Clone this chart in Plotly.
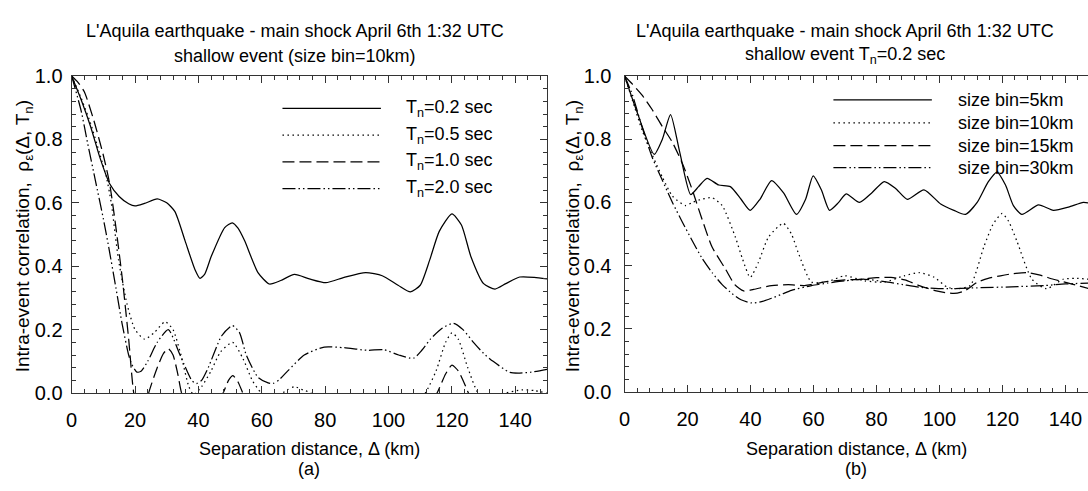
import plotly.graph_objects as go

W, H = 1088, 491

# ---------------- data: panel (a) ----------------
x_a02 = [0,3,6,9,12,15,18,20,23,27,30,32.6,35.8,38.9,40.5,42,44.1,48.3,50.7,52.5,54.6,58.8,62.4,66,70.3,75,80.2,86,92.8,98,103,106.9,110,113,116,120,123,126,130,133.6,137,141.4,146,150]
y_a02 = [1.0,0.925,0.84,0.74,0.66,0.62,0.597,0.59,0.598,0.612,0.6,0.572,0.48,0.39,0.362,0.375,0.432,0.522,0.537,0.52,0.48,0.38,0.344,0.355,0.374,0.36,0.348,0.365,0.38,0.37,0.34,0.319,0.34,0.42,0.51,0.565,0.53,0.43,0.345,0.328,0.345,0.366,0.365,0.36]

x_a05 = [0,3,6,9,11,12.5,14.8,17.5,20,23,26,29.5,32,34.5,37,38.5,41,44,47,50.8,54,57,59.8,62,65,68,70.3,73,75.5,80,90,100,108,111.6,115,118,120,122,125,128.3,132,137,142,146,150]
y_a05 = [1.0,0.93,0.85,0.75,0.68,0.6,0.42,0.28,0.2,0.17,0.19,0.225,0.2,0.12,0.02,-0.005,0.02,0.07,0.13,0.16,0.11,0.04,0.0,-0.02,-0.01,0.01,0.02,0.01,0.0,-0.05,-0.1,-0.08,-0.04,0.0,0.07,0.16,0.19,0.17,0.08,0.0,-0.02,0.0,0.01,0.008,0.0]

x_a10 = [0,2,4,7,10,12,14,16,18,19.6,22,24.3,27,29,30.5,32,33.5,34.7,38,42,45,47.8,49.5,50.9,52.5,54,58,70,90,105,112,115.3,118,120,122,125.2,128,140,150]
y_a10 = [1.0,0.98,0.95,0.86,0.75,0.66,0.52,0.36,0.17,0.0,-0.1,0.0,0.08,0.125,0.14,0.12,0.06,0.0,-0.08,-0.1,-0.04,0.0,0.04,0.055,0.035,0.0,-0.1,-0.2,-0.25,-0.15,-0.05,0.0,0.06,0.088,0.07,0.0,-0.08,-0.15,-0.12]

x_a20 = [0,3,5,7.5,10,11.7,14,15.9,18,19,20.6,22,24,27,30.5,34.2,37.9,39.4,41,43.1,47.3,50.7,53,55.1,58.8,62,63.5,65.5,68.2,73.4,79.7,86,93.3,98.5,103.2,107.9,110.5,113.2,117,120.5,123.5,126.8,130,133,138.3,141.4,145,150]
y_a20 = [1.0,0.89,0.79,0.67,0.55,0.46,0.33,0.22,0.12,0.09,0.066,0.07,0.1,0.16,0.2,0.12,0.04,0.03,0.04,0.08,0.18,0.213,0.19,0.12,0.05,0.032,0.03,0.042,0.07,0.12,0.145,0.143,0.135,0.137,0.12,0.11,0.135,0.17,0.205,0.22,0.2,0.16,0.125,0.1,0.065,0.063,0.066,0.075]

# ---------------- data: panel (b) ----------------
x_b05 = [0,4,9.4,12,14.6,17.5,21,23.5,26.2,29.9,33.6,37,39.9,43,46.7,50.5,54.6,57.5,59.9,62.5,65.1,68,70.4,74.6,78.5,82.5,86,89.8,95.1,100.4,104.6,108.3,112,115.5,118.3,121,123.5,126.2,131.5,136.2,141,145.7,147.5]
y_b05 = [1.0,0.885,0.752,0.8,0.878,0.76,0.625,0.65,0.676,0.655,0.65,0.61,0.575,0.61,0.669,0.63,0.562,0.61,0.684,0.64,0.575,0.6,0.627,0.6,0.63,0.666,0.645,0.61,0.64,0.595,0.575,0.562,0.6,0.665,0.696,0.655,0.59,0.562,0.592,0.575,0.585,0.6,0.598]

x_b10 = [0,2.5,5.5,8.8,12,15.2,19.4,21.5,24.5,27.8,31,35.2,37.5,39.9,42.5,45.7,50.4,53,55.2,59.4,64.7,69.9,76.2,82.5,88.8,93.6,98.4,102.5,105.6,109.8,114.1,117,119.9,122,124.6,129.4,134,139.3,143,147.5]
y_b10 = [1.0,0.923,0.83,0.75,0.68,0.62,0.59,0.6,0.61,0.615,0.59,0.49,0.42,0.363,0.41,0.49,0.534,0.5,0.44,0.348,0.35,0.368,0.352,0.348,0.368,0.378,0.363,0.332,0.327,0.337,0.459,0.53,0.565,0.54,0.478,0.357,0.327,0.357,0.36,0.357]

x_b15 = [0,2.5,5.5,8.8,12,15.2,18.5,21.5,24.5,27.8,32,35,37.8,41,46.7,52,57.2,64.5,70,75.1,80,84.6,89,93.6,99,104.6,108,111.9,115.5,119.4,123.5,127.8,132,136.2,141,147.5]
y_b15 = [1.0,0.974,0.94,0.893,0.84,0.79,0.72,0.64,0.55,0.459,0.39,0.34,0.32,0.325,0.337,0.34,0.337,0.35,0.355,0.357,0.362,0.363,0.355,0.337,0.32,0.312,0.32,0.347,0.36,0.368,0.375,0.378,0.37,0.357,0.345,0.327]

x_b30 = [0,2.5,5.5,8.8,12,15.2,18.5,21.5,24.5,27.8,31,34.1,37,40.4,43.5,46.7,50,53,59.4,64.5,69.9,76.2,83.6,88.5,93.6,101.4,111.9,122.9,133.2,140,147.5]
y_b30 = [1.0,0.94,0.84,0.742,0.67,0.6,0.535,0.479,0.425,0.378,0.34,0.312,0.292,0.282,0.286,0.297,0.31,0.322,0.337,0.345,0.352,0.357,0.348,0.34,0.332,0.327,0.33,0.333,0.337,0.342,0.345]

labels_a = ["T<sub>n</sub>=0.2 sec", "T<sub>n</sub>=0.5 sec", "T<sub>n</sub>=1.0 sec", "T<sub>n</sub>=2.0 sec"]
labels_b = ["size bin=5km", "size bin=10km", "size bin=15km", "size bin=30km"]
x_ticks = [0, 20, 40, 60, 80, 100, 120, 140]
y_ticks = [0.0, 0.2, 0.4, 0.6, 0.8, 1.0]

# ---------------- styles ----------------
DASHES = ["solid", "1.5px,3.5px", "12px,5px", "13px,3px,1.5px,3px,1.5px,3px"]
LW = 1.25
FONT = "Liberation Sans, Arial, Helvetica, sans-serif"

fig = go.Figure()
series_a = [(x_a02, y_a02), (x_a05, y_a05), (x_a10, y_a10), (x_a20, y_a20)]
series_b = [(x_b05, y_b05), (x_b10, y_b10), (x_b15, y_b15), (x_b30, y_b30)]
for (xs, ys), d, name in zip(series_a, DASHES, labels_a):
    fig.add_trace(go.Scatter(x=xs, y=ys, mode="lines", name=name, xaxis="x", yaxis="y",
                             line=dict(color="black", width=LW, dash=d, shape="spline", smoothing=0.6)))
for (xs, ys), d, name in zip(series_b, DASHES, labels_b):
    fig.add_trace(go.Scatter(x=xs, y=ys, mode="lines", name=name, xaxis="x2", yaxis="y2",
                             line=dict(color="black", width=LW, dash=d, shape="spline", smoothing=0.6)))

AX = "#333333"
def axis(**kw):
    base = dict(showgrid=False, zeroline=False, showline=True, linecolor=AX, linewidth=1.2,
                mirror="ticks", ticks="inside", ticklen=7, tickwidth=1, tickcolor=AX,
                tickfont=dict(size=20, color="black", family=FONT))
    base.update(kw)
    return base

ybot_a, ytop = 1 - 400 / H, 1 - 68 / H
ybot_b = 1 - 399 / H
fig.update_layout(
    width=W, height=H, margin=dict(l=0, r=0, t=0, b=0),
    paper_bgcolor="white", plot_bgcolor="white", showlegend=False,
    font=dict(family=FONT, color="black", size=18),
    xaxis=axis(domain=[66 / W, 544 / W], range=[0, 150], tickvals=x_ticks, anchor="y",
               ticklabelstandoff=9,
               minor=dict(dtick=4, tick0=0, ticklen=4, ticks="inside", tickcolor=AX)),
    yaxis=axis(domain=[ybot_a, ytop], range=[0, 1], tickvals=y_ticks, tickformat=".1f", anchor="x",
               ticklabelstandoff=4,
               minor=dict(dtick=0.04, tick0=0, ticklen=4, ticks="inside", tickcolor=AX)),
    xaxis2=axis(domain=[622 / W, 1.0], range=[0, 147.2], tickvals=x_ticks, anchor="y2",
                ticklabelstandoff=9,
                minor=dict(dtick=4, tick0=0, ticklen=4, ticks="inside", tickcolor=AX)),
    yaxis2=axis(domain=[ybot_b, ytop], range=[0, 1], tickvals=y_ticks, tickformat=".1f", anchor="x2",
                mirror=False, ticklabelstandoff=8,
                minor=dict(dtick=0.04, tick0=0, ticklen=4, ticks="inside", tickcolor=AX)),
)

def px(x, y):
    return x / W, 1 - y / H

ann = []
def text(x, y, s, size, anchor="center", angle=0):
    xx, yy = px(x, y)
    ann.append(dict(x=xx, y=yy, xref="paper", yref="paper", text=s, showarrow=False,
                    xanchor=anchor, yanchor="middle", textangle=angle,
                    font=dict(size=size, family=FONT, color="black")))

# titles
text(291, 21, "L'Aquila earthquake - main shock April 6th 1:32 UTC", 18)
text(291, 47, "shallow event (size bin=10km)", 18)
text(844, 21, "L'Aquila earthquake - main shock April 6th 1:32 UTC", 18)
text(844, 47, "shallow event T<sub>n</sub>=0.2 sec", 18)
# axis titles
text(305, 459, "Separation distance, Δ (km)", 18)
text(305, 479, "(a)", 18)
text(855, 459, "Separation distance, Δ (km)", 18)
text(855, 479, "(b)", 18)
ylab = "Intra-event correlation,\u00a0\u00a0ρ<sub>ε</sub>(Δ, T<sub>n</sub>)"
text(19, 236, ylab, 19, angle=-90)
text(572, 236, ylab, 19, angle=-90)

# legends
shapes = []
rows_a = [102, 130, 158, 186]
rows_b = [93, 117, 141, 164]
for lab, d, r in zip(labels_a, DASHES, rows_a):
    x0, y0 = px(278, r)
    x1, _ = px(377, r)
    shapes.append(dict(type="line", xref="paper", yref="paper", x0=x0, x1=x1, y0=y0, y1=y0,
                       line=dict(color="black", width=LW, dash=d)))
    text(400, r, lab, 18, anchor="left")
for lab, d, r in zip(labels_b, DASHES, rows_b):
    x0, y0 = px(832, r)
    x1, _ = px(931, r)
    shapes.append(dict(type="line", xref="paper", yref="paper", x0=x0, x1=x1, y0=y0, y1=y0,
                       line=dict(color="black", width=LW, dash=d)))
    text(955, r, lab, 18, anchor="left")

fig.update_layout(annotations=ann, shapes=shapes)
fig.write_html("out.html")
